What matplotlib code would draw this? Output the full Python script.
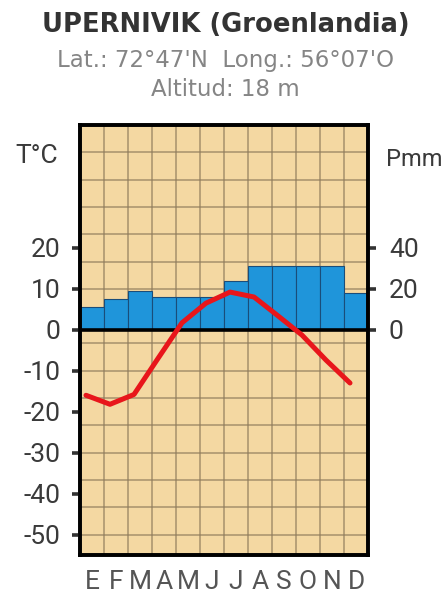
import matplotlib
matplotlib.use("Agg")
import matplotlib.pyplot as plt
import numpy as np

months = ["E", "F", "M", "A", "M", "J", "J", "A", "S", "O", "N", "D"]
precip_mm = [11, 15, 19, 16, 16, 16, 24, 31, 31, 31, 31, 18]
temp_c = [-16.0, -18.2, -15.8, -7.0, 1.7, 6.5, 9.2, 8.0, 3.4, -1.3, -7.4, -13.0]
temp_ticks = [20, 10, 0, -10, -20, -30, -40, -50]
precip_ticks = [0, 20, 40]

title = "UPERNIVIK (Groenlandia)"
subtitle1 = "Lat.: 72°47'N  Long.: 56°07'O"
subtitle2 = "Altitud: 18 m"

BG = "#F4D8A2"
BLUE = "#1F95DA"
RED = "#E8161B"
GRID = "#8E7B5C"
TXT = "#3A3A3A"

narrow = ["Roboto", "DejaVu Sans"]

fig = plt.figure(figsize=(4.47, 5.94), dpi=100)
ax = fig.add_axes([80/447, 39/594, 288/447, 430/594])
ax2 = ax.twinx()

T_LO, T_HI = -55, 50
ax.set_ylim(T_LO, T_HI)
ax2.set_ylim(2*T_LO, 2*T_HI)
ax.set_xlim(0, 12)

# layering: ax2 (background, grid, bars) below, ax (line) on top
ax.set_zorder(2)
ax.patch.set_visible(False)
ax2.set_zorder(1)
ax2.patch.set_visible(True)
ax2.set_facecolor(BG)

# grid drawn on ax2 below the bars
for b in range(1, 12):
    ax2.axvline(b, color=GRID, lw=1.2, alpha=0.7, zorder=0.5)
for k in range(15):
    ax2.axhline(2*(-50 + k*20/3), color=GRID, lw=1.2, alpha=0.7, zorder=0.5)

x = np.arange(12) + 0.5
ax2.bar(x, precip_mm, width=1.0, color=BLUE, edgecolor="#1A4D7A", lw=0.8, zorder=2)

ax.axhline(0, color="black", lw=2.6, zorder=3)
ax.plot(np.arange(12) + 0.25, temp_c, color=RED, lw=3.6, solid_capstyle="round",
        solid_joinstyle="round", zorder=4)

ax.set_yticks(temp_ticks)
ax.set_yticklabels([str(t) for t in temp_ticks], family=narrow, fontsize=19, color=TXT)
ax2.set_yticks(precip_ticks)
ax2.set_yticklabels([str(p) for p in precip_ticks], family=narrow, fontsize=19, color=TXT)
ax.tick_params(axis="y", length=6, width=2.6, color="#333333", pad=8)
ax2.tick_params(axis="y", length=6, width=2.6, color="#333333", pad=9)

ax.set_xticks(x)
ax.set_xticklabels(months, family=narrow, fontsize=19, color="#555555")
ax.tick_params(axis="x", length=0, pad=11)

for a in (ax, ax2):
    for s in a.spines.values():
        s.set_linewidth(2.6)
        s.set_color("black")

fig.text(0.505, 1 - 25/594, title, ha="center", va="center", fontsize=18.6,
         fontweight="bold", color="#333333", family="DejaVu Sans")
fig.text(0.505, 1 - 61/594, subtitle1, ha="center", va="center", fontsize=16.5,
         color="#858585", family="DejaVu Sans")
fig.text(0.505, 1 - 90/594, subtitle2, ha="center", va="center", fontsize=16.5,
         color="#858585", family="DejaVu Sans")
fig.text(15/447, 1 - 156/594, "T°C", ha="left", va="center", fontsize=19,
         color=TXT, family=narrow)
fig.text(386/447, 1 - 160/594, "Pmm", ha="left", va="center", fontsize=17,
         color=TXT, family=narrow)

fig.savefig("out.png", dpi=100)
